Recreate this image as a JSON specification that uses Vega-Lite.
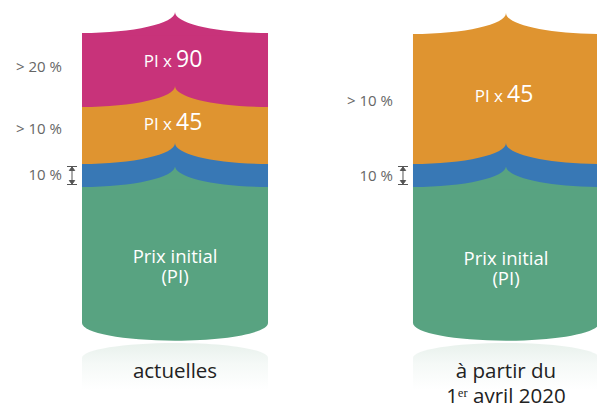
{
  "$schema": "https://vega.github.io/schema/vega-lite/v6.json",
  "width": 597,
  "height": 407,
  "autosize": {"type": "none"},
  "padding": 0,
  "background": "#ffffff",
  "view": {"stroke": null},
  "config": {"font": "Open Sans"},
  "datasets": {
    "tarifs": [{"tarif": "actuelles"}, {"tarif": "avril"}],
    "segments": [
      {"tarif": "actuelles", "tranche": "Prix initial", "bas": 0, "haut": 136},
      {"tarif": "actuelles", "tranche": "10 %", "bas": 136, "haut": 159},
      {"tarif": "actuelles", "tranche": "PI x 45", "bas": 159, "haut": 216},
      {"tarif": "actuelles", "tranche": "PI x 90", "bas": 216, "haut": 290},
      {"tarif": "avril", "tranche": "Prix initial", "bas": 0, "haut": 136},
      {"tarif": "avril", "tranche": "10 %", "bas": 136, "haut": 159},
      {"tarif": "avril", "tranche": "PI x 45", "bas": 159, "haut": 289}
    ],
    "reperes": [
      {"tarif": "actuelles", "texte": "> 20 %", "niveau": 251},
      {"tarif": "actuelles", "texte": "> 10 %", "niveau": 189},
      {"tarif": "actuelles", "texte": "10 %", "niveau": 143},
      {"tarif": "avril", "texte": "> 10 %", "niveau": 217},
      {"tarif": "avril", "texte": "10 %", "niveau": 142}
    ],
    "coefs": [
      {"tarif": "actuelles", "prefixe": "PI x", "coef": "90", "niveau": 256},
      {"tarif": "actuelles", "prefixe": "PI x", "coef": "45", "niveau": 193},
      {"tarif": "avril", "prefixe": "PI x", "coef": "45", "niveau": 221}
    ],
    "initial": [
      {"tarif": "actuelles", "texte": "Prix initial", "niveau": 60},
      {"tarif": "actuelles", "texte": "(PI)", "niveau": 40},
      {"tarif": "avril", "texte": "Prix initial", "niveau": 58},
      {"tarif": "avril", "texte": "(PI)", "niveau": 38}
    ],
    "legendes": [
      {"tarif": "actuelles", "texte": "actuelles", "niveau": -55},
      {"tarif": "avril", "texte": "à partir du", "niveau": -55},
      {"tarif": "avril", "texte": "1ᵉʳ avril 2020", "niveau": -80}
    ]
  },
  "resolve": {"scale": {"x": "shared", "y": "shared", "color": "shared"}},
  "layer": [
    {
      "data": {"name": "tarifs"},
      "mark": {
        "type": "point",
        "shape": "M-1,0.16 A1 0.16 0 0 1 1 0.16 L1 0.5 L-1 0.5 Z",
        "size": 34596,
        "filled": true,
        "opacity": 1,
        "strokeWidth": 0,
        "fill": {
          "gradient": "linear",
          "x1": 0, "y1": 0, "x2": 0, "y2": 1,
          "stops": [
            {"offset": 0, "color": "#e8f1ec"},
            {"offset": 0.45, "color": "#f5f9f7"},
            {"offset": 1, "color": "#ffffff"}
          ]
        }
      },
      "encoding": {
        "x": {"field": "tarif", "type": "nominal", "axis": null,
              "scale": {"type": "band", "range": [82, 599], "paddingInner": 0.438, "paddingOuter": 0}},
        "y": {"datum": -20, "type": "quantitative", "axis": null,
              "scale": {"domain": [-84, 323], "nice": false, "zero": false}}
      }
    },
    {
      "data": {"name": "segments"},
      "mark": {"type": "bar", "strokeWidth": 0},
      "encoding": {
        "x": {"field": "tarif", "type": "nominal"},
        "y": {"field": "bas", "type": "quantitative"},
        "y2": {"field": "haut"},
        "color": {"field": "tranche", "type": "nominal", "legend": null,
                  "scale": {"domain": ["Prix initial", "10 %", "PI x 45", "PI x 90"],
                            "range": ["#58a381", "#3878b5", "#df9430", "#c8337a"]}}
      }
    },
    {
      "data": {"name": "segments"},
      "mark": {
        "type": "point",
        "shape": "M-1,0.03 L-1,0 A1 0.226 0 0 0 0 -0.226 A1 0.226 0 0 0 1 0 L1,0.03 Z",
        "size": 34596,
        "filled": true,
        "opacity": 1,
        "strokeWidth": 0
      },
      "encoding": {
        "x": {"field": "tarif", "type": "nominal"},
        "y": {"field": "haut", "type": "quantitative"},
        "color": {"field": "tranche", "type": "nominal"}
      }
    },
    {
      "data": {"name": "segments"},
      "transform": [{"filter": {"field": "tranche", "equal": "Prix initial"}}],
      "mark": {
        "type": "point",
        "shape": "M-1,-0.03 L-1,0 A1 0.19 0 0 0 1 0 L1,-0.03 Z",
        "size": 34596,
        "filled": true,
        "opacity": 1,
        "strokeWidth": 0
      },
      "encoding": {
        "x": {"field": "tarif", "type": "nominal"},
        "y": {"field": "bas", "type": "quantitative"},
        "color": {"field": "tranche", "type": "nominal"}
      }
    },
    {
      "data": {"name": "tarifs"},
      "mark": {
        "type": "point",
        "shape": "M-1.5,-0.9 L-0.5,-0.9 M-1.5,0.9 L-0.5,0.9 M-1,-0.8 L-1,0.8 M-1.27,-0.5 L-1,-0.85 L-0.73,-0.5 Z M-1.27,0.5 L-1,0.85 L-0.73,0.5 Z",
        "size": 400,
        "filled": true,
        "fill": "#555555",
        "stroke": "#555555",
        "strokeWidth": 1,
        "opacity": 1
      },
      "encoding": {
        "x": {"field": "tarif", "type": "nominal", "bandPosition": 0},
        "y": {"datum": 147.5, "type": "quantitative"}
      }
    },
    {
      "data": {"name": "reperes"},
      "mark": {"type": "text", "align": "right", "baseline": "alphabetic", "dx": -20, "fontSize": 15, "color": "#666666"},
      "encoding": {
        "x": {"field": "tarif", "type": "nominal", "bandPosition": 0},
        "y": {"field": "niveau", "type": "quantitative"},
        "text": {"field": "texte"}
      }
    },
    {
      "data": {"name": "coefs"},
      "mark": {"type": "text", "align": "right", "baseline": "alphabetic", "dx": -3, "fontSize": 17, "color": "#ffffff"},
      "encoding": {
        "x": {"field": "tarif", "type": "nominal"},
        "y": {"field": "niveau", "type": "quantitative"},
        "text": {"field": "prefixe"}
      }
    },
    {
      "data": {"name": "coefs"},
      "mark": {"type": "text", "align": "left", "baseline": "alphabetic", "dx": 1, "fontSize": 23, "color": "#ffffff"},
      "encoding": {
        "x": {"field": "tarif", "type": "nominal"},
        "y": {"field": "niveau", "type": "quantitative"},
        "text": {"field": "coef"}
      }
    },
    {
      "data": {"name": "initial"},
      "mark": {"type": "text", "align": "center", "baseline": "alphabetic", "fontSize": 18.5, "color": "#ffffff"},
      "encoding": {
        "x": {"field": "tarif", "type": "nominal"},
        "y": {"field": "niveau", "type": "quantitative"},
        "text": {"field": "texte"}
      }
    },
    {
      "data": {"name": "legendes"},
      "mark": {"type": "text", "align": "center", "baseline": "alphabetic", "fontSize": 20.5, "color": "#222222"},
      "encoding": {
        "x": {"field": "tarif", "type": "nominal"},
        "y": {"field": "niveau", "type": "quantitative"},
        "text": {"field": "texte"}
      }
    }
  ]
}
